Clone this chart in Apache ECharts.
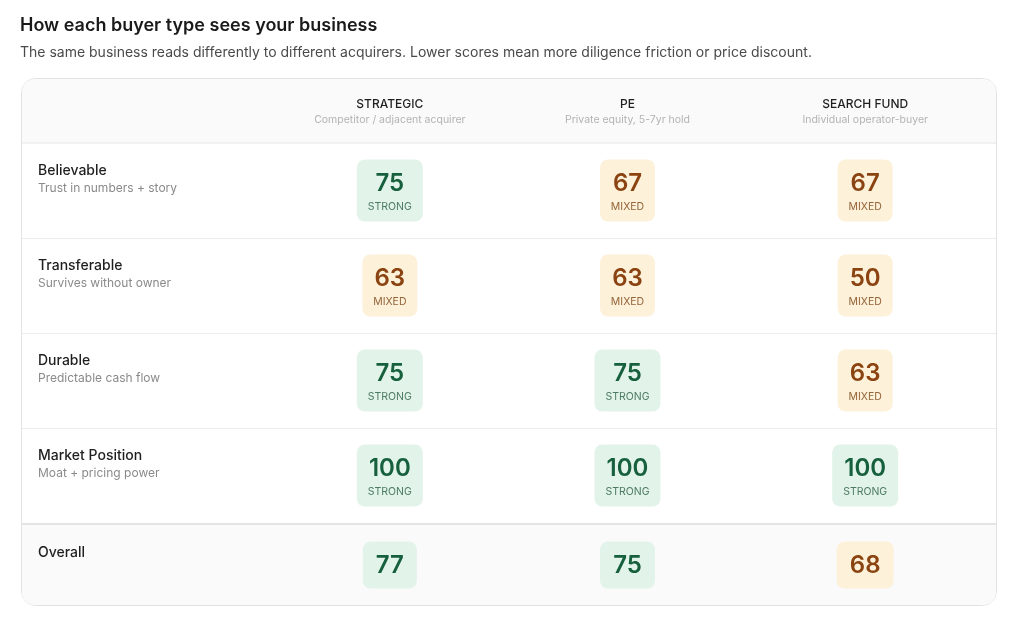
<!DOCTYPE html>
<html><head><meta charset="utf-8">
<script src="https://cdn.jsdelivr.net/npm/echarts@6/dist/echarts.min.js"></script>
<style>html,body{margin:0;background:#fff}#c{width:1030px;height:618px}</style>
</head><body><div id="c"></div>
<script>
var buyers = ['STRATEGIC', 'PE', 'SEARCH FUND'];
var buyerNotes = ['Competitor / adjacent acquirer', 'Private equity, 5-7yr hold', 'Individual operator-buyer'];
var rows = ['Believable', 'Transferable', 'Durable', 'Market Position', 'Overall'];
var rowNotes = ['Trust in numbers + story', 'Survives without owner', 'Predictable cash flow', 'Moat + pricing power', ''];
var strategic = [75, 63, 75, 100, 77];
var pe = [67, 63, 75, 100, 75];
var searchFund = [67, 50, 63, 100, 68];
var ratings = [
  ['STRONG', 'MIXED', 'MIXED'],
  ['MIXED', 'MIXED', 'MIXED'],
  ['STRONG', 'STRONG', 'MIXED'],
  ['STRONG', 'STRONG', 'STRONG'],
  ['', '', '']
];
var FONT = 'Inter, "Noto Sans", sans-serif';
var cols = [strategic, pe, searchFund];
var data = [];
cols.forEach(function (arr, c) {
  arr.forEach(function (v, r) {
    var strong = r === 4 ? v >= 70 : ratings[r][c] === 'STRONG';
    data.push({ value: [c, r, v], label: ratings[r][c], strong: strong });
  });
});
var cv = document.createElement('canvas').getContext('2d');
function tw(t, f) { cv.font = f; return cv.measureText(t).width; }

var chart = echarts.init(document.getElementById('c'));
chart.setOption({
  animation: false,
  title: [
    { text: 'How each buyer type sees your business', left: 15, top: 12,
      textStyle: { fontFamily: FONT, fontSize: 18, fontWeight: 600, color: '#1a1a1a' } },
    { text: 'The same business reads differently to different acquirers. Lower scores mean more diligence friction or price discount.',
      left: 15, top: 41, textStyle: { fontFamily: FONT, fontSize: 14, fontWeight: 400, color: '#4a4a4a' } }
  ],
  graphic: [
    { type: 'rect', shape: { x: 21.5, y: 78.5, width: 975, height: 527, r: 14 }, style: { fill: '#fff', stroke: '#e2e2e2', lineWidth: 1 }, z: -10 },
    { type: 'rect', shape: { x: 22, y: 79, width: 974, height: 64, r: [13, 13, 0, 0] }, style: { fill: '#fafafa' }, z: -9 },
    { type: 'rect', shape: { x: 22, y: 524, width: 974, height: 81, r: [0, 0, 13, 13] }, style: { fill: '#fafafa' }, z: -9 },
    { type: 'line', shape: { x1: 22, y1: 143, x2: 996, y2: 143 }, style: { stroke: '#e6e6e6', lineWidth: 1 }, z: -8 },
    { type: 'line', shape: { x1: 22, y1: 238.5, x2: 996, y2: 238.5 }, style: { stroke: '#ececec', lineWidth: 1 }, z: -8 },
    { type: 'line', shape: { x1: 22, y1: 333.5, x2: 996, y2: 333.5 }, style: { stroke: '#ececec', lineWidth: 1 }, z: -8 },
    { type: 'line', shape: { x1: 22, y1: 428.5, x2: 996, y2: 428.5 }, style: { stroke: '#ececec', lineWidth: 1 }, z: -8 },
    { type: 'line', shape: { x1: 22, y1: 524, x2: 996, y2: 524 }, style: { stroke: '#e4e4e4', lineWidth: 2 }, z: -8 }
  ],
  grid: { left: 271, right: 46, top: 143, bottom: 0 },
  xAxis: {
    type: 'category', data: buyers, position: 'top',
    axisLine: { show: false }, axisTick: { show: false }, splitLine: { show: false },
    axisLabel: {
      margin: 16, interval: 0,
      formatter: function (v, i) { return '{t|' + v + '}\n{s|' + buyerNotes[i] + '}'; },
      rich: {
        t: { fontFamily: FONT, fontSize: 12, fontWeight: 500, color: '#1f1f1f', lineHeight: 18 },
        s: { fontFamily: FONT, fontSize: 10.5, color: '#b3b3b3', lineHeight: 14 }
      }
    }
  },
  yAxis: {
    type: 'category', data: rows, inverse: true,
    axisLine: { show: false }, axisTick: { show: false }, splitLine: { show: false },
    axisLabel: {
      margin: 233, align: 'left', interval: 0,
      formatter: function (v, i) {
        return i === 4 ? '{o|' + v + '}' : '{t|' + v + '}\n{s|' + rowNotes[i] + '}';
      },
      rich: {
        t: { fontFamily: FONT, fontSize: 14, fontWeight: 500, color: '#1f1f1f', lineHeight: 18 },
        s: { fontFamily: FONT, fontSize: 12, color: '#8a8a8a', lineHeight: 16 },
        o: { fontFamily: FONT, fontSize: 14, fontWeight: 500, color: '#1f1f1f', lineHeight: 18, padding: [0, 0, 12, 0] }
      },
      padding: [0, 0, 23, 0]
    }
  },
  series: [{
    type: 'custom',
    data: data,
    renderItem: function (params, api) {
      var d = data[params.dataIndex];
      var p = api.coord([api.value(0), api.value(1)]);
      var overall = api.value(1) === 4;
      var num = String(api.value(2));
      var g = d.strong;
      var bg = g ? '#e2f3ea' : '#fdf1d9';
      var fc = g ? '#17603d' : '#8a4311';
      var lc = g ? '#4e7c62' : '#93653a';
      var nf = '600 24px ' + FONT;
      var nw = tw(num, nf);
      var lw = d.label ? tw(d.label, '400 10.5px ' + FONT) : 0;
      var w = Math.round(Math.max(nw, lw) + (overall ? 26 : 22));
      var h = overall ? 47 : 62;
      var cy = overall ? p[1] - 5.5 : p[1];
      var ch = [
        { type: 'rect', shape: { x: p[0] - w / 2, y: cy - h / 2, width: w, height: h, r: 8 }, style: { fill: bg } },
        { type: 'text', style: { text: num, x: p[0], y: overall ? cy + 0.5 : cy - 7, align: 'center', verticalAlign: 'middle', font: nf, fill: fc } }
      ];
      if (d.label) ch.push({ type: 'text', style: { text: d.label, x: p[0], y: cy + 16, align: 'center', verticalAlign: 'middle', font: '400 10.5px ' + FONT, fill: lc } });
      return { type: 'group', children: ch };
    }
  }]
});
</script></body></html>
